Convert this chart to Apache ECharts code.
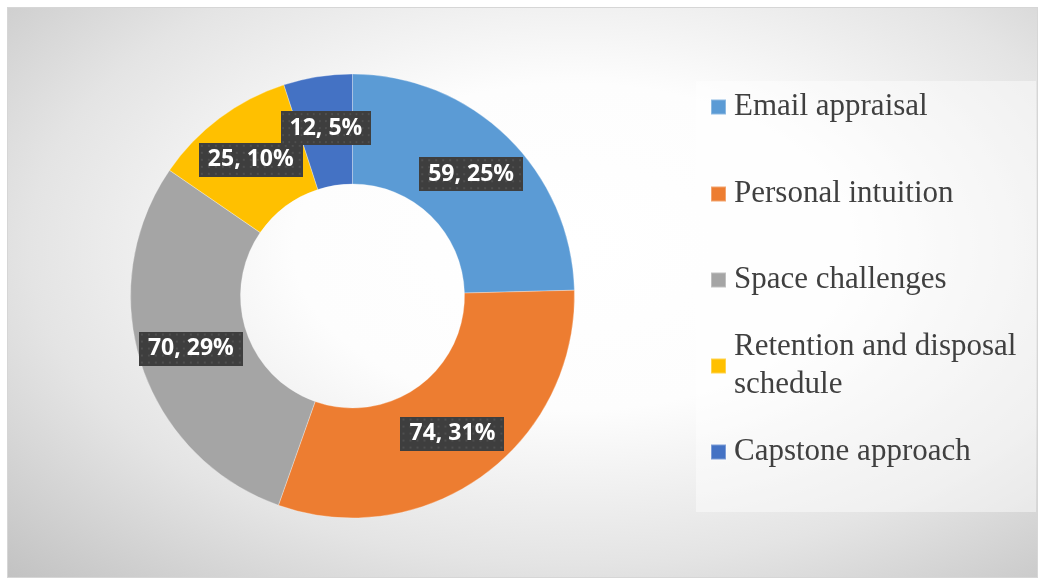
<!doctype html>
<html lang="en">
<head>
    <meta charset="UTF-8">
    <title>Document</title>
    <style>
        body{
            margin: 0;
            background: #fff;
        }
        .frame{
            position: absolute;
            left: 7px;
            top: 7px;
            width: 1029px;
            height: 569px;
            border: 1px solid #d6d6d6;
            background: radial-gradient(ellipse at 55% 42%, #ffffff 0%, #fdfdfd 35%, #e4e4e4 68%, #c2c2c2 100%);
        }
        #myChart{
            position: absolute;
            left: 0;
            top: 0;
            width: 1041px;
            height: 579px;
        }
    </style>
</head>
<body>
    <div class="frame"></div>
    <div id="myChart"></div>

    <script src="https://cdn.jsdelivr.net/npm/echarts@6/dist/echarts.min.js"></script>
    <script>
        var categories = ['Email appraisal', 'Personal intuition', 'Space challenges', 'Retention and disposal schedule', 'Capstone approach'];
        var values = [59, 74, 70, 25, 12];
        var colors = ['#5b9bd5', '#ed7d31', '#a5a5a5', '#ffc000', '#4472c4'];

        // legend rows sit 86px apart, the long one wraps onto a second line
        var legendTops = [88, 175, 261, 309, 433];
        var legendNames = {'Retention and disposal schedule': 'Retention and disposal\nschedule'};

        // dotted dark fill for the data label boxes
        var dots = document.createElement('canvas');
        dots.width = 104;
        dots.height = 34;
        var ctx = dots.getContext('2d');
        ctx.fillStyle = '#3e3e3e';
        ctx.fillRect(0, 0, dots.width, dots.height);
        ctx.fillStyle = '#4f4f4f';
        for (var y = 2; y < dots.height; y += 7) {
            for (var x = 2; x < dots.width; x += 7) {
                ctx.fillRect(x, y, 2, 2);
            }
        }

        var chart = echarts.init(document.getElementById('myChart'));

        var legends = categories.map(function (name, i) {
            var wrapped = legendNames[name] != null;
            return {
                data: [name],
                left: 710,
                top: legendTops[i],
                padding: 0,
                itemWidth: 15,
                itemHeight: 15,
                icon: 'rect',
                selectedMode: false,
                formatter: function (n) {
                    return legendNames[n] || n;
                },
                textStyle: {
                    fontFamily: 'Liberation Serif',
                    fontSize: 31,
                    lineHeight: 38,
                    color: '#404040',
                    padding: wrapped ? [38, 0, 0, 3] : [0, 0, 0, 3]
                }
            };
        });

        var option = {
            backgroundColor: 'transparent',
            color: colors,
            animation: false,
            graphic: [{
                type: 'rect',
                shape: {x: 696, y: 81, width: 340, height: 431},
                style: {fill: 'rgba(255,255,255,0.45)'},
                z: -1
            }],
            legend: legends,
            series: [{
                type: 'pie',
                center: [352.5, 296],
                radius: [112, 222],
                startAngle: 90,
                clockwise: true,
                percentPrecision: 0,
                avoidLabelOverlap: false,
                labelLayout: {hideOverlap: false},
                itemStyle: {
                    borderColor: 'rgba(255,255,255,0.3)',
                    borderWidth: 1
                },
                label: {
                    show: true,
                    position: 'inside',
                    formatter: '{c}, {d}%',
                    color: '#fff',
                    fontFamily: 'Open Sans',
                    fontWeight: 'bold',
                    fontSize: 23,
                    lineHeight: 27,
                    backgroundColor: {image: dots},
                    padding: [4, 9, 3, 9],
                    shadowColor: 'rgba(0,0,0,0.4)',
                    shadowBlur: 6,
                    shadowOffsetX: 3,
                    shadowOffsetY: 3
                },
                labelLine: {show: false},
                emphasis: {disabled: true},
                data: categories.map(function (c, i) {
                    return {name: c, value: values[i]};
                })
            }]
        };

        chart.setOption(option);
    </script>
</body>
</html>
